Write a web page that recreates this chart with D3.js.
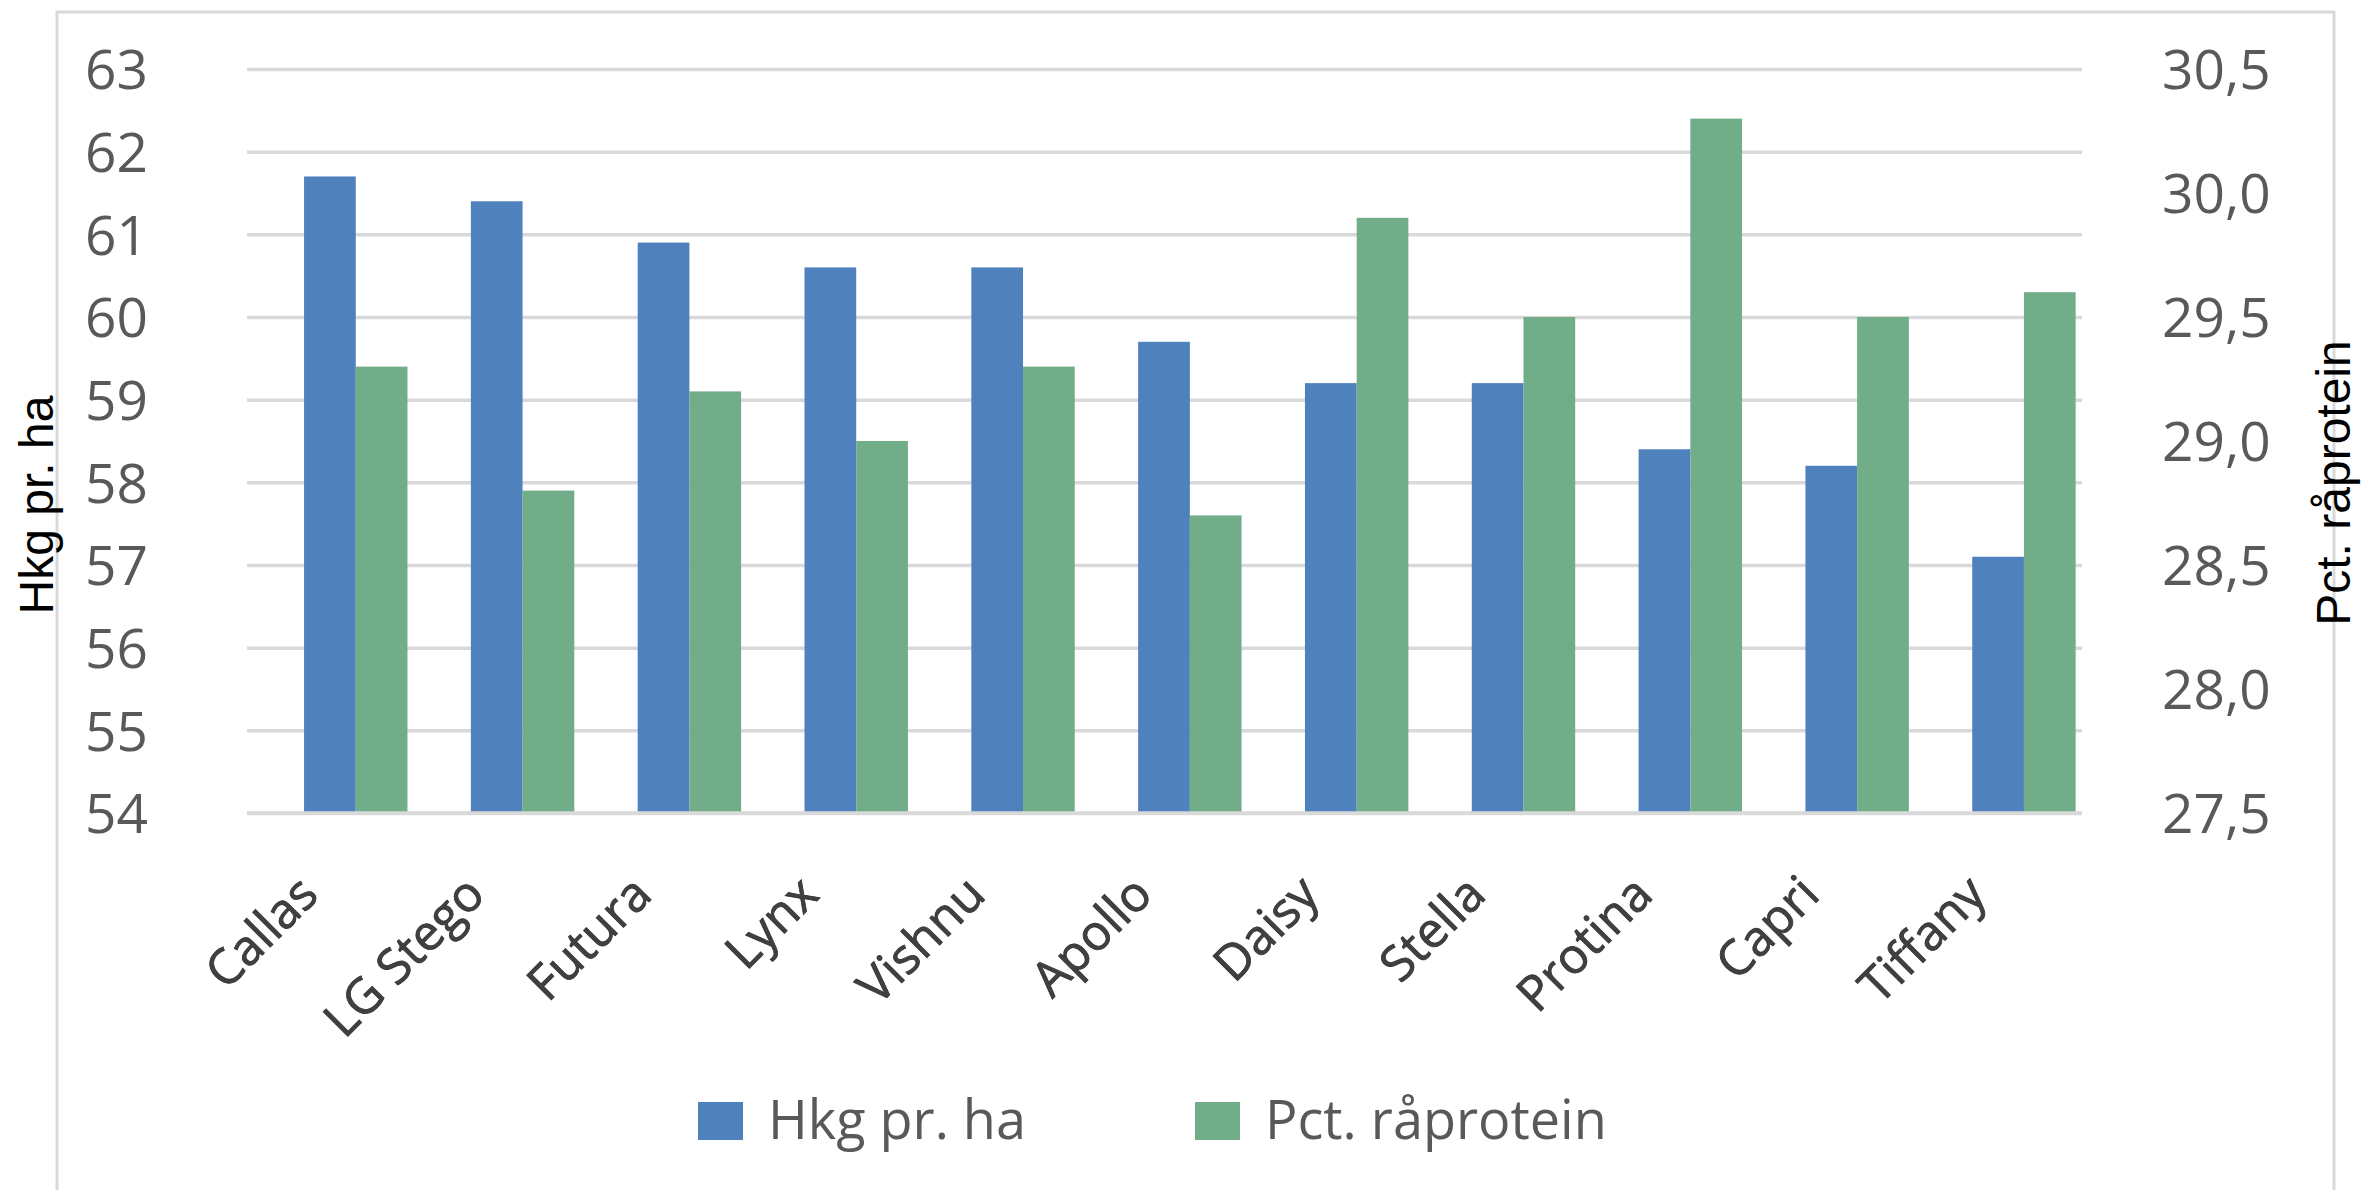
<!DOCTYPE html>
<html>
<head>
<meta charset="utf-8">
<script src="https://cdn.jsdelivr.net/npm/d3@7"></script>
<style>
  html, body { margin: 0; padding: 0; background: #fff; }
  svg { display: block; }
</style>
</head>
<body>
<svg id="chart" width="2364" height="1190"></svg>
<script>
const categories = ["Callas", "LG Stego", "Futura", "Lynx", "Vishnu", "Apollo", "Daisy", "Stella", "Protina", "Capri", "Tiffany"];
const hkgValues = [61.7, 61.4, 60.9, 60.6, 60.6, 59.7, 59.2, 59.2, 58.4, 58.2, 57.1];
const pctValues = [29.3, 28.8, 29.2, 29.0, 29.3, 28.7, 29.9, 29.5, 30.3, 29.5, 29.6];
const leftTicks = [54, 55, 56, 57, 58, 59, 60, 61, 62, 63];
const rightTicks = [27.5, 28.0, 28.5, 29.0, 29.5, 30.0, 30.5];
const seriesNames = ["Hkg pr. ha", "Pct. råprotein"];
const seriesColors = ["#4F81BD", "#72AD8A"];
const leftTitle = "Hkg pr. ha";
const rightTitle = "Pct. råprotein";

const svg = d3.select("#chart");
const W = 2364, H = 1190;
const plot = { left: 247, right: 2082, top: 69, bottom: 813 };
const gray = "#595959";
const gridColor = "#D9D9D9";
const font = "'Open Sans', 'Noto Sans', sans-serif";

// outer border
svg.append("rect")
  .attr("x", 57).attr("y", 12)
  .attr("width", 2334 - 57).attr("height", 1300)
  .attr("fill", "#fff").attr("stroke", gridColor).attr("stroke-width", 3);

const yLeft = d3.scaleLinear().domain([54, 63]).range([plot.bottom, plot.top]);
const yRight = d3.scaleLinear().domain([27.5, 30.5]).range([plot.bottom, plot.top]);
const xCat = d3.scaleBand().domain(categories).range([plot.left, plot.right]);
const step = xCat.step();
const groupOffset = 0.342 * step;
const groupWidth = 0.62 * step;
const xSub = d3.scaleBand().domain([0, 1]).range([0, groupWidth]);

// gridlines
const grid = svg.append("g").attr("transform", `translate(${plot.left},0)`)
  .call(d3.axisLeft(yLeft).tickValues(leftTicks).tickSize(-(plot.right - plot.left)).tickFormat(""));
grid.select(".domain").remove();
grid.selectAll("line").attr("stroke", gridColor).attr("stroke-width", 3.5);

// bars
const barG = svg.append("g");
categories.forEach((c, i) => {
  const x0 = xCat(c) + groupOffset;
  barG.append("rect")
    .attr("x", x0 + xSub(0)).attr("width", xSub.bandwidth())
    .attr("y", yLeft(hkgValues[i])).attr("height", yLeft(54) - yLeft(hkgValues[i]))
    .attr("fill", seriesColors[0]);
  barG.append("rect")
    .attr("x", x0 + xSub(1)).attr("width", xSub.bandwidth())
    .attr("y", yRight(pctValues[i])).attr("height", yRight(27.5) - yRight(pctValues[i]))
    .attr("fill", seriesColors[1]);
});

// x baseline
svg.append("line")
  .attr("x1", plot.left).attr("x2", plot.right)
  .attr("y1", plot.bottom).attr("y2", plot.bottom)
  .attr("stroke", gridColor).attr("stroke-width", 3.5);

// left axis labels
const la = svg.append("g").attr("transform", "translate(148,0)")
  .call(d3.axisLeft(yLeft).tickValues(leftTicks).tickSize(0).tickPadding(0).tickFormat(d3.format("d")));
la.select(".domain").remove();
la.selectAll("text").attr("font-family", font).attr("font-size", 55).attr("fill", gray).attr("dy", "0.36em");

// right axis labels
const locale = d3.formatLocale({ decimal: ",", thousands: ".", grouping: [3], currency: ["", " kr"] });
const ra = svg.append("g").attr("transform", "translate(2162,0)")
  .call(d3.axisRight(yRight).tickValues(rightTicks).tickSize(0).tickPadding(0).tickFormat(locale.format(".1f")));
ra.select(".domain").remove();
ra.selectAll("text").attr("font-family", font).attr("font-size", 55).attr("fill", gray).attr("dy", "0.36em");

// x labels
const xa = svg.append("g").attr("transform", `translate(0,${plot.bottom})`)
  .call(d3.axisBottom(xCat).tickSize(0).tickPadding(0));
xa.select(".domain").remove();
xa.selectAll(".tick").attr("transform", d => `translate(${xCat(d) + xCat.bandwidth() / 2 - 10},${897 - plot.bottom})`);
xa.selectAll("text")
  .attr("font-family", font).attr("font-size", 49)
  .attr("fill", "#404040").attr("stroke", "#333").attr("stroke-width", 0.8)
  .attr("text-anchor", "end").attr("dy", 0).attr("y", 0)
  .attr("transform", "rotate(-45)");

// axis titles
svg.append("text")
  .attr("transform", "translate(53,505) rotate(-90)")
  .attr("text-anchor", "middle")
  .attr("font-family", "'Liberation Sans', Arial, sans-serif").attr("font-size", 48)
  .attr("fill", "#000").text(leftTitle);
svg.append("text")
  .attr("transform", "translate(2350,483) rotate(-90)")
  .attr("text-anchor", "middle")
  .attr("font-family", "'Liberation Sans', Arial, sans-serif").attr("font-size", 48)
  .attr("fill", "#000").text(rightTitle);

// legend
const legendX = [698, 1195];
const leg = svg.append("g");
seriesNames.forEach((n, i) => {
  leg.append("rect").attr("x", legendX[i]).attr("y", 1102).attr("width", 45).attr("height", 38).attr("fill", seriesColors[i]);
  leg.append("text").attr("x", legendX[i] + 70).attr("y", 1139)
    .attr("font-family", font).attr("font-size", 54).attr("fill", gray).text(n);
});
</script>
</body>
</html>
